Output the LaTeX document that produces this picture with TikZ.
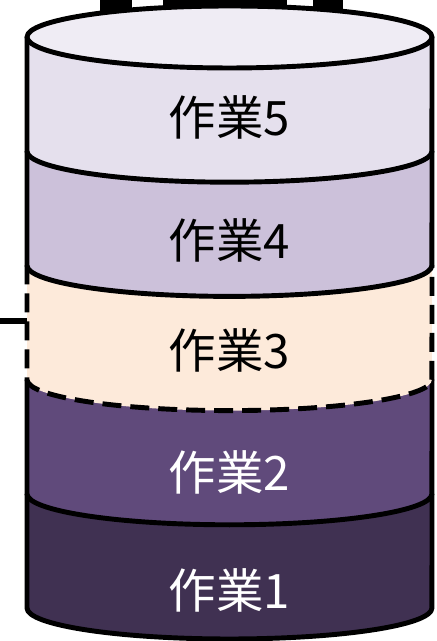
\documentclass[tikz,border=0pt]{standalone}
\usepackage{fontspec}
\newfontfamily\jpfont{Noto Sans CJK JP}
\definecolor{workone}{RGB}{64,49,82}
\definecolor{worktwo}{RGB}{96,74,123}
\definecolor{workthree}{RGB}{253,234,218}
\definecolor{workfour}{RGB}{204,193,218}
\definecolor{workfive}{RGB}{229,224,237}
\colorlet{workfivetop}{workfive!60!white}
\tikzset{rim/.style={line width=2.8pt, color=black, line join=round}}
\tikzset{drim/.style={rim, dash pattern=on 0.38cm off 0.18cm}}
\tikzset{worktext/.style={font=\jpfont\fontsize{27}{32}\selectfont, inner sep=0pt}}

\begin{document}
\begin{tikzpicture}[x=0.02cm, y=0.02cm]
        \useasboundingbox (0,0) rectangle (436,641);

        % cut-off pieces above the stack
        \fill[black] (100,641) rectangle (132,618);
        \fill[black] (163,641) rectangle (287,618);
        \fill[black] (313,641) rectangle (343,618);

        % cut-off line into layer 3
        \coordinate (cutleft) at (0,320);
        \coordinate (rimleft) at (27,320);
        \draw [line width=3.3pt] (cutleft) -- (rimleft);

        \fill[workone] (27,147.2) -- (27,33) arc[start angle=180, end angle=360, x radius=4.05cm, y radius=0.62cm] -- (432,147.2) -- cycle;
        \draw [rim] (27,147.2) -- (27,33) arc[start angle=180, end angle=360, x radius=4.05cm, y radius=0.62cm] -- (432,147.2);

        \fill[worktwo] (27,261.4) -- (27,147.2) arc[start angle=180, end angle=360, x radius=4.05cm, y radius=0.62cm] -- (432,261.4) -- cycle;
        \draw [rim] (27,261.4) -- (27,147.2) arc[start angle=180, end angle=360, x radius=4.05cm, y radius=0.62cm] -- (432,261.4);

        \fill[workthree] (27,375.6) -- (27,261.4) arc[start angle=180, end angle=360, x radius=4.05cm, y radius=0.62cm] -- (432,375.6) -- cycle;
        \draw [drim] (27,375.6) -- (27,261.4) arc[start angle=180, end angle=360, x radius=4.05cm, y radius=0.62cm] -- (432,375.6);

        \fill[workfour] (27,489.8) -- (27,375.6) arc[start angle=180, end angle=360, x radius=4.05cm, y radius=0.62cm] -- (432,489.8) -- cycle;
        \draw [rim] (27,489.8) -- (27,375.6) arc[start angle=180, end angle=360, x radius=4.05cm, y radius=0.62cm] -- (432,489.8);

        \fill[workfive] (27,604) -- (27,489.8) arc[start angle=180, end angle=360, x radius=4.05cm, y radius=0.62cm] -- (432,604) -- cycle;
        \draw [rim] (27,604) -- (27,489.8) arc[start angle=180, end angle=360, x radius=4.05cm, y radius=0.62cm] -- (432,604);
        \draw [rim, fill=workfivetop] (229.5,604) ellipse [x radius=4.05cm, y radius=0.62cm];

        \node[worktext, text=white] (w1) at (229.5, 51) {作業1};
        \node[worktext, text=white] (w2) at (229.5,169) {作業2};
        \node[worktext] (w3) at (229.5,291) {作業3};
        \node[worktext] (w4) at (229.5,401) {作業4};
        \node[worktext] (w5) at (229.5,524) {作業5};

    \end{tikzpicture}
\end{document}
